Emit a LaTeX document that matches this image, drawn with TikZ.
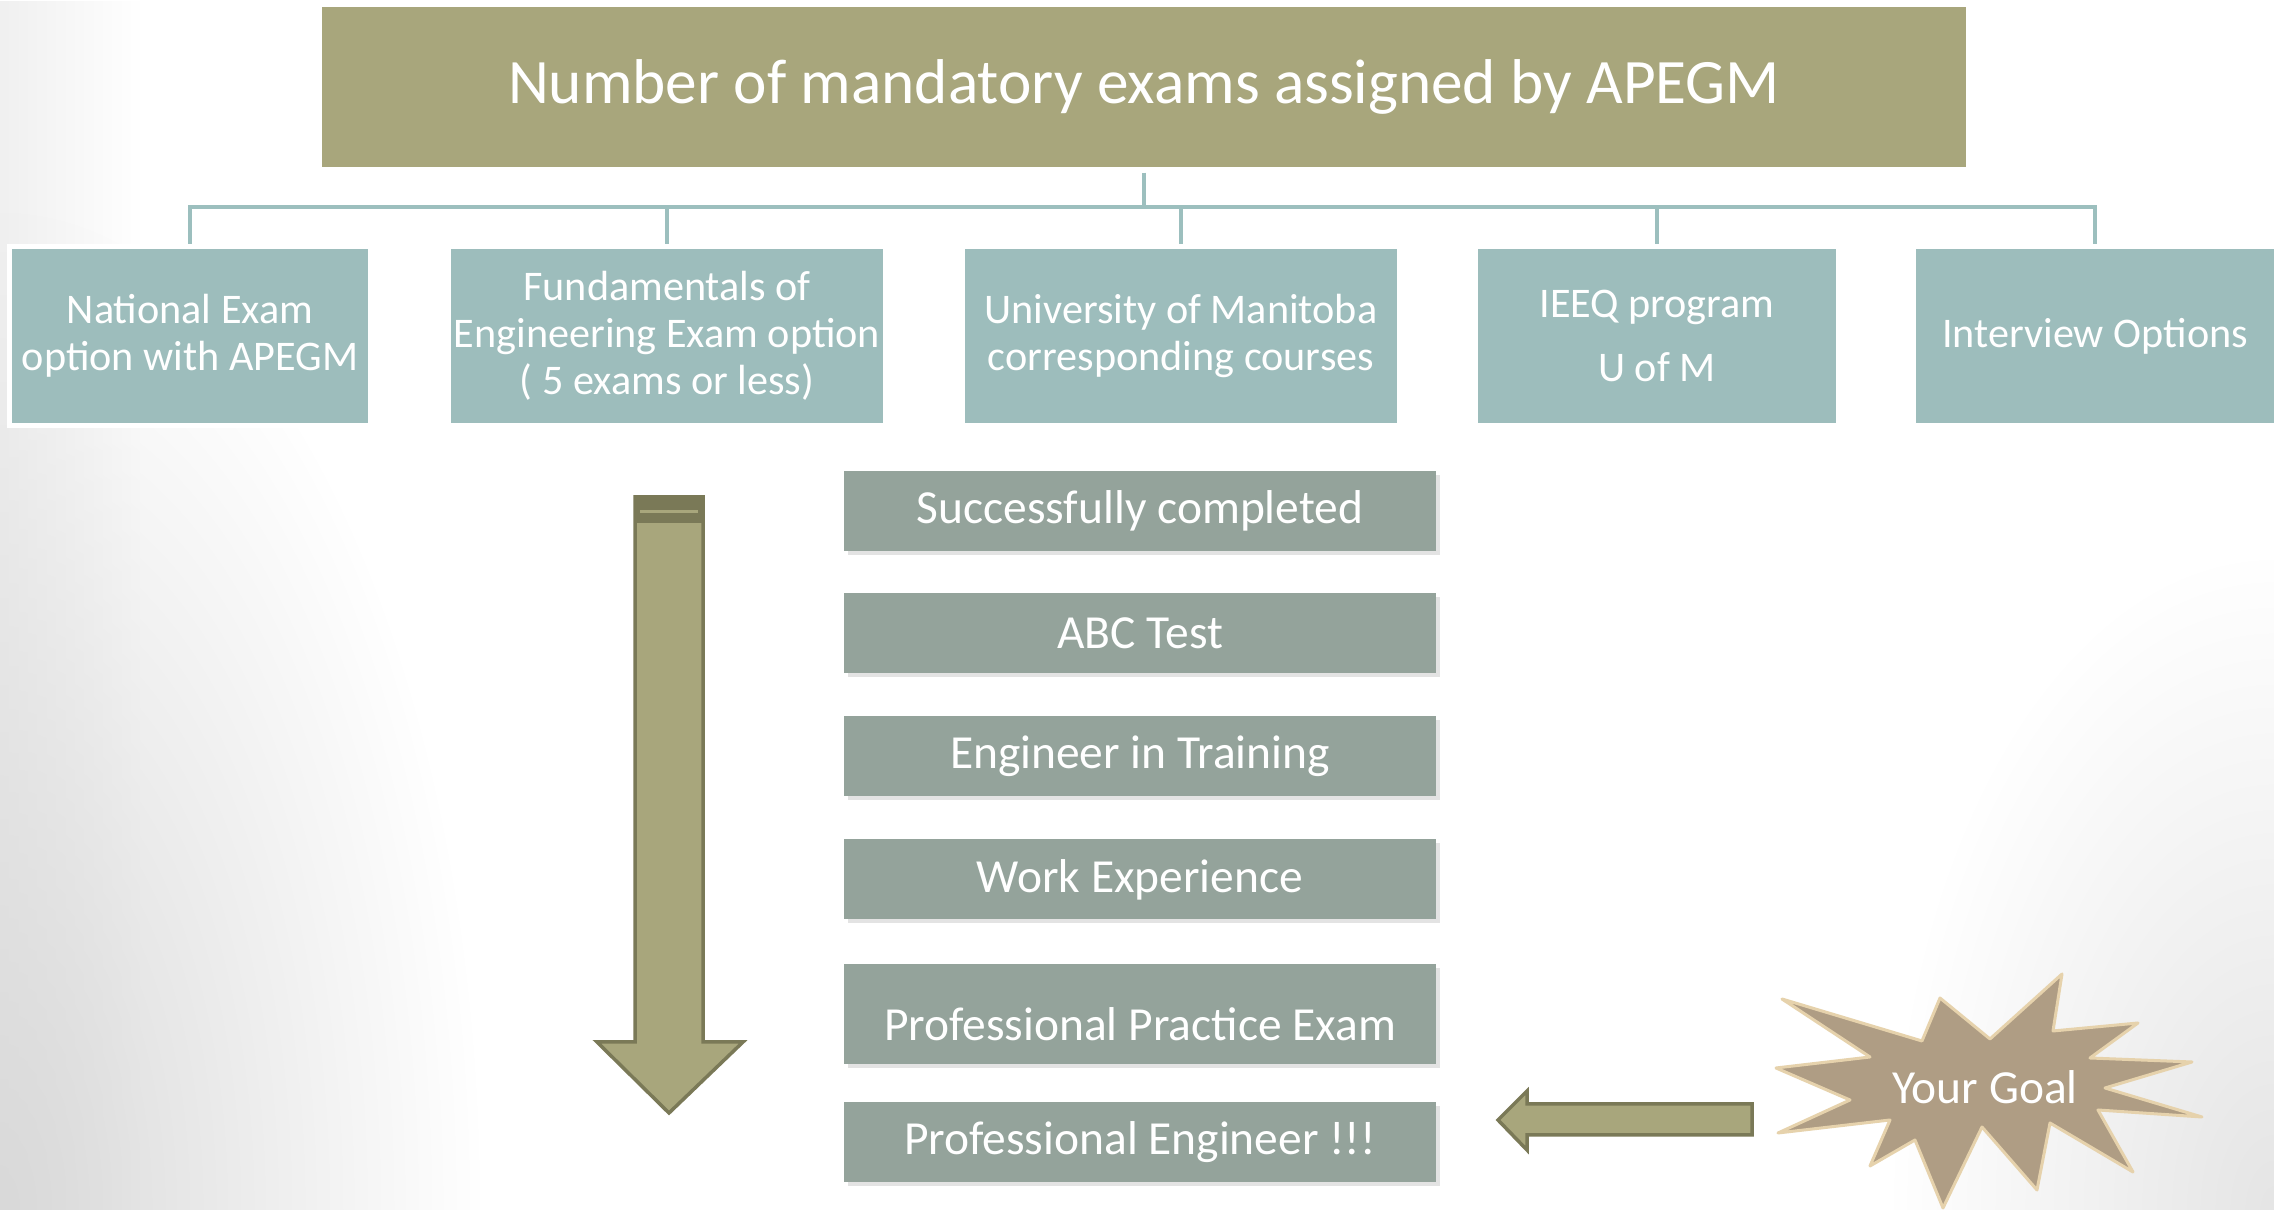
\documentclass[tikz,border=0pt]{standalone}
\usepackage{fontspec}
\setmainfont{Carlito}
\usetikzlibrary{positioning,shadows,fadings}

\definecolor{titleolive}{HTML}{A8A67C}
\definecolor{optionteal}{HTML}{9DBDBC}
\definecolor{linkteal}{HTML}{9CBFBE}
\definecolor{stepgray}{HTML}{94A39B}
\definecolor{arrowdark}{HTML}{7A7957}
\definecolor{goaltan}{HTML}{AF9D84}
\definecolor{goaledge}{HTML}{E6D2AC}

\tikzfading[name=fade out, inner color=transparent!0, outer color=transparent!100]
\tikzfading[name=fade right, left color=transparent!0, right color=transparent!100]

\begin{document}
\begin{tikzpicture}[x=0.01cm, y=-0.01cm,
  titlebox/.style={fill=titleolive, text=white, minimum width=16.44cm, minimum height=1.6cm,
    font=\fontsize{18}{22}\selectfont},
  optionbox/.style={fill=optionteal, draw=white, line width=0.05cm, text=white, align=center,
    minimum height=1.79cm, inner sep=0pt, font=\fontsize{12}{13.3}\selectfont},
  stepbox/.style={fill=stepgray, text=white, minimum width=5.92cm, minimum height=0.8cm,
    font=\fontsize{13.5}{16}\selectfont,
    drop shadow={opacity=0.22, shadow xshift=0.04cm, shadow yshift=-0.04cm}},
  link/.style={draw=linkteal, line width=1.3pt},
  blockarrow/.style={fill=titleolive, draw=arrowdark, line width=0.035cm},
  goalstar/.style={fill=goaltan, draw=goaledge, line width=0.03cm, line join=round},
  goaltext/.style={text=white, font=\fontsize{13.5}{16}\selectfont}]

  % Background
  \useasboundingbox (0,0) rectangle (2274,1210);
  \fill[white] (0,0) rectangle (2274,1210);
  \fill[black!6, path fading=fade right] (0,0) rectangle (140,1210);
  \fill[black!15, path fading=fade out] (0,1210) ellipse (480 and 1000);
  \fill[black!10, path fading=fade out] (2274,1210) ellipse (380 and 650);

  % Title
  \node[titlebox] (title) at (1144,87) {Number of mandatory exams assigned by APEGM};

  % Options
  \node[optionbox, minimum width=3.61cm] (nat)  at (190,336)  {National Exam\\option with APEGM};
  \node[optionbox, minimum width=4.37cm] (fund) at (667,336)  {Fundamentals of\\Engineering Exam option\\( 5 exams or less)};
  \node[optionbox, minimum width=4.36cm] (uni)  at (1181,336) {University of Manitoba\\corresponding courses};
  \node[optionbox, minimum width=3.62cm] (ieeq) at (1657,336) {IEEQ program\\[0.17cm]U of M};
  \node[optionbox, minimum width=3.62cm] (intv) at (2095,336) {Interview Options};

  % Connectors
  \coordinate (hub) at (1144,207);
  \draw[link, shorten <=0.05cm] (title) -- (hub);
  \foreach \opt in {nat,fund,uni,ieeq,intv}
    \draw[link] (hub) -| (\opt);

  % Steps
  \node[stepbox] (s1) at (1140,511) {Successfully completed};
  \node[stepbox, below=0.41cm of s1] (s2) {ABC Test};
  \node[stepbox, below=0.41cm of s2] (s3) {Engineer in Training};
  \node[stepbox, below=0.42cm of s3] (s4) {Work Experience};
  \node[stepbox, below=0.43cm of s4, minimum height=1cm, text height=15pt] (s5) {Professional Practice Exam};
  \node[stepbox, below=0.37cm of s5] (s6) {Professional Engineer !!!};

  % Down arrow
  \draw[blockarrow] (635,497) -- (703,497) -- (703,1042) -- (743,1042) -- (669,1113)
    -- (597,1042) -- (635,1042) -- cycle;
  \fill[arrowdark] (635,497) rectangle (703,523);
  \draw[titleolive, line width=0.03cm] (640,512) -- (698,512);

  % Goal
  \draw[goalstar] (1782,999) -- (1922,1041) -- (1940,998) -- (1990,1039) -- (2062,974)
    -- (2053,1031) -- (2138,1023) -- (2090,1058) -- (2192,1062) -- (2105,1088)
    -- (2202,1117) -- (2098,1110) -- (2133,1172) -- (2050,1123) -- (2037,1190)
    -- (1982,1127) -- (1943,1208) -- (1915,1140) -- (1870,1166) -- (1890,1120)
    -- (1778,1133) -- (1850,1100) -- (1776,1068) -- (1870,1057) -- cycle;
  \node[goaltext] (goal) at (1985,1087) {Your Goal};

  % Left arrow
  \draw[blockarrow] (1752,1104) -- (1752,1135) -- (1527,1135) -- (1527,1150) -- (1498,1120)
    -- (1527,1091) -- (1527,1104) -- cycle;
\end{tikzpicture}
\end{document}
